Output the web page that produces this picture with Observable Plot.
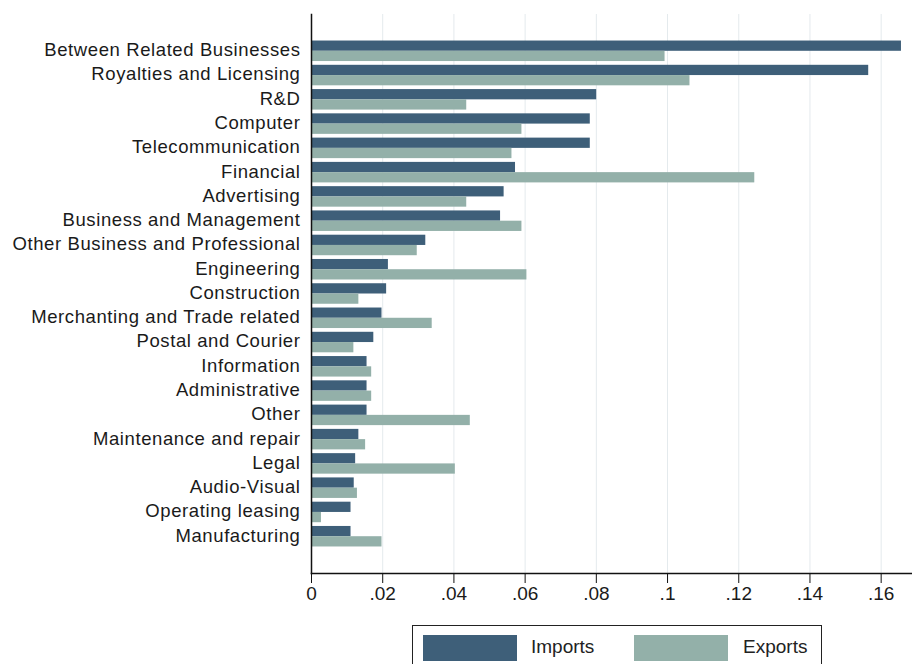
<!DOCTYPE html>
<html>
<head>
<meta charset="utf-8">
<script src="https://cdn.jsdelivr.net/npm/d3@7"></script>
<script src="https://cdn.jsdelivr.net/npm/@observablehq/plot@0.6"></script>
<style>
  body { margin: 0; background: #fff; font-family: "Liberation Sans", Arial, sans-serif; }
  #chart svg { display: block; }
  #chart g[aria-label="y-axis tick label"] text { letter-spacing: 0.6px; }
  .legend { position: absolute; left: 412px; top: 625px; width: 410px; height: 50px;
    border: 1.5px solid #222; background: #fff; box-sizing: border-box; }
  .legend .sw { position: absolute; top: 9px; width: 94px; height: 26px; }
  .legend .lb { position: absolute; top: 8px; font-size: 19px; color: #222; line-height: 26px; }
</style>
</head>
<body>
<div id="chart"></div>
<div class="legend">
  <div class="sw" style="left:10px;background:#3e5f79"></div>
  <div class="lb" style="left:118px">Imports</div>
  <div class="sw" style="left:221px;background:#93b0a9"></div>
  <div class="lb" style="left:330px">Exports</div>
</div>
<script>
const categories = [
  "Between Related Businesses", "Royalties and Licensing", "R&D", "Computer",
  "Telecommunication", "Financial", "Advertising", "Business and Management",
  "Other Business and Professional", "Engineering", "Construction",
  "Merchanting and Trade related", "Postal and Courier", "Information",
  "Administrative", "Other", "Maintenance and repair", "Legal", "Audio-Visual",
  "Operating leasing", "Manufacturing"
];
const imports = [0.1657, 0.1565, 0.0801, 0.0783, 0.0783, 0.0573, 0.0541, 0.0531,
  0.0321, 0.0216, 0.0211, 0.0198, 0.0175, 0.0156, 0.0156, 0.0156, 0.0133, 0.0124,
  0.0120, 0.0111, 0.0111];
const exports = [0.0993, 0.1063, 0.0436, 0.0591, 0.0563, 0.1245, 0.0436, 0.0591,
  0.0297, 0.0605, 0.0133, 0.0339, 0.0119, 0.0169, 0.0169, 0.0446, 0.0152, 0.0404,
  0.0129, 0.0028, 0.0198];
const xTicks = [0, 0.02, 0.04, 0.06, 0.08, 0.1, 0.12, 0.14, 0.16];

const impData = categories.map((c, i) => ({category: c, value: imports[i]}));
const expData = categories.map((c, i) => ({category: c, value: exports[i]}));

const colorImp = "#3e5f79";
const colorExp = "#93b0a9";

const base = {
  width: 912,
  height: 612,
  marginLeft: 311,
  marginRight: 0,
  marginTop: 14,
  marginBottom: 39,
  style: {fontFamily: "'Liberation Sans', Arial, sans-serif", background: "#fff"},
  x: {domain: [0, 0.1688]},
  y: {domain: categories, paddingInner: 0.155, paddingOuter: 1.093, round: false}
};

// probe plot to read the band width
const probe = Plot.plot({...base, marks: [Plot.barX(impData, {x: "value", y: "category"})]});
const bw = probe.scale("y").bandwidth;
const half = bw / 2;

const fmt = d => d === 0 ? "0" : String(d).replace(/^0/, "");

const chart = Plot.plot({
  ...base,
  marks: [
    Plot.gridX(xTicks, {stroke: "#e4eaed", strokeOpacity: 1, strokeWidth: 1}),
    Plot.barX(impData, {x: "value", y: "category", fill: colorImp, insetBottom: half, insetTop: 0}),
    Plot.barX(expData, {x: "value", y: "category", fill: colorExp, insetTop: half, insetBottom: 0}),
    Plot.axisY({tickSize: 0, tickPadding: 11, fontSize: 18.5, fill: "#1a1a1a", label: null, dy: -1}),
    Plot.axisX(xTicks, {tickSize: 10, tickPadding: 3, fontSize: 19, fill: "#1a1a1a", stroke: "#111", tickFormat: fmt, label: null}),
    Plot.frame({anchor: "left", stroke: "#111", strokeWidth: 1.5}),
    Plot.frame({anchor: "bottom", stroke: "#111", strokeWidth: 1.5})
  ]
});
document.getElementById("chart").appendChild(chart);
</script>
</body>
</html>
